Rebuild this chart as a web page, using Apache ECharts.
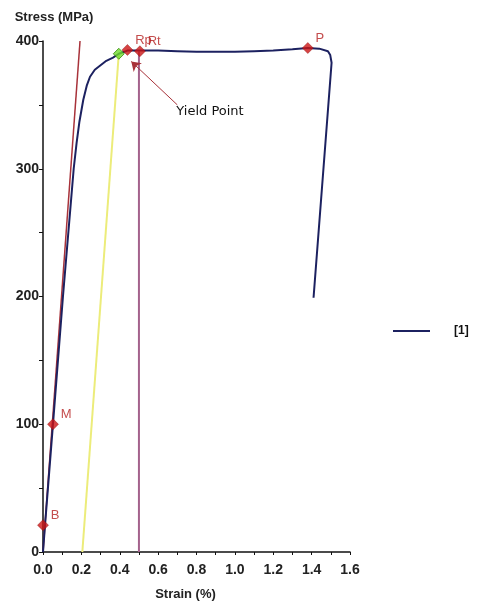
<!DOCTYPE html>
<html>
<head>
<meta charset="utf-8">
<script src="https://cdn.jsdelivr.net/npm/echarts@6/dist/echarts.min.js"></script>
<style>
  html, body { margin: 0; padding: 0; background: #fff; }
  #main { width: 498px; height: 605px; }
</style>
</head>
<body>
<div id="main"></div>
<script>
// stress-strain curve [1]
const curveStrain = [0, 0.01, 0.052, 0.104, 0.16, 0.175, 0.19, 0.21, 0.228, 0.245, 0.27, 0.30, 0.33, 0.365, 0.395, 0.44, 0.505, 0.6, 0.7, 0.8, 0.9, 1.0, 1.1, 1.2, 1.3, 1.38, 1.44, 1.485, 1.497, 1.504, 1.41];
const curveStress = [0, 20, 100, 200, 300, 320, 337, 354, 365, 372, 377.5, 381, 384.5, 387, 390, 392.5, 392.5, 392.5, 392, 391.5, 391.5, 391.5, 392, 392.5, 393.5, 394.5, 394, 392, 389, 383, 199];

// helper lines
const modulusStrain = [0, 0.193];
const modulusStress = [0, 400];
const offsetStrain = [0.205, 0.395];
const offsetStress = [0, 390];
const limitStrain = [0.5, 0.5];
const limitStress = [0, 392];

// marked points
const pointNames = ['B', 'M', 'Rp', 'Rt', 'P'];
const pointStrain = [0, 0.052, 0.44, 0.505, 1.38];
const pointStress = [21, 100, 393, 392, 394.5];
const yieldStrain = 0.395;
const yieldStress = 390;

// yield point annotation: [tail, head]
const yieldArrow = [[0.70, 350], [0.46, 384]];

const zip = (xs, ys) => xs.map((x, i) => [x, ys[i]]);

let myChart = echarts.init(document.getElementById('main'));

const axisText = { color: '#222', fontSize: 13, fontWeight: 'bold', fontFamily: 'Liberation Sans, Arial' };

let option = {
	backgroundColor: '#fff',
	animation: false,
	grid: { left: 43, right: 148, top: 41, bottom: 53, outerBoundsMode: 'none', containLabel: false },
	legend: {
		data: ['[1]'],
		left: 388,
		top: 320,
		icon: 'rect',
		itemWidth: 37,
		itemHeight: 2,
		textStyle: { color: '#111', fontSize: 12, fontWeight: 'bold', fontFamily: 'Liberation Sans, Arial', padding: [0, 0, 0, 19] }
	},
	xAxis: {
		type: 'value',
		min: 0,
		max: 1.6,
		interval: 0.2,
		name: 'Strain (%)',
		nameLocation: 'middle',
		nameGap: 36,
		nameTextStyle: Object.assign({}, axisText, { padding: [0, 22, 0, 0] }),
		splitLine: { show: false },
		axisLine: { lineStyle: { color: '#111', width: 1.5 } },
		axisTick: { length: 3, lineStyle: { color: '#111' } },
		minorTick: { show: true, splitNumber: 2, length: 3, lineStyle: { color: '#111' } },
		axisLabel: Object.assign({}, axisText, { fontSize: 14, margin: 11, formatter: v => v.toFixed(1) })
	},
	yAxis: {
		type: 'value',
		min: 0,
		max: 400,
		interval: 100,
		name: 'Stress (MPa)',
		nameLocation: 'end',
		nameGap: 17,
		nameTextStyle: Object.assign({}, axisText, { padding: [0, 0, 0, 22] }),
		splitLine: { show: false },
		axisLine: { lineStyle: { color: '#111', width: 1.5 } },
		axisTick: { length: 4, lineStyle: { color: '#111' } },
		minorTick: { show: true, splitNumber: 2, length: 4, lineStyle: { color: '#111' } },
		axisLabel: Object.assign({}, axisText, { fontSize: 14, margin: 4 })
	},
	series: [
		{
			name: 'modulus',
			type: 'line',
			data: zip(modulusStrain, modulusStress),
			showSymbol: false,
			lineStyle: { color: '#a8323a', width: 1.5 },
			z: 2
		},
		{
			name: 'offset',
			type: 'line',
			data: zip(offsetStrain, offsetStress),
			showSymbol: false,
			lineStyle: { color: '#ecec7a', width: 2 },
			z: 2
		},
		{
			name: 'limit',
			type: 'line',
			data: zip(limitStrain, limitStress),
			showSymbol: false,
			lineStyle: { color: '#a4628c', width: 2 },
			z: 2
		},
		{
			name: '[1]',
			type: 'line',
			data: zip(curveStrain, curveStress),
			showSymbol: false,
			itemStyle: { color: '#1c2160' },
			lineStyle: { color: '#1c2160', width: 2 },
			z: 3,
			markLine: {
				silent: true,
				symbol: ['none', 'arrow'],
				symbolSize: 9,
				lineStyle: { color: '#a8323a', width: 1, type: 'solid' },
				label: { show: false },
				data: [[{ coord: yieldArrow[0] }, { coord: yieldArrow[1] }]]
			},
			markPoint: {
				symbol: 'circle',
				symbolSize: 0,
				label: {
					show: true,
					position: 'right',
					distance: 0,
					offset: [-1, 7],
					color: '#111',
					fontSize: 13,
					fontFamily: 'DejaVu Sans, Verdana',
					formatter: 'Yield Point'
				},
				data: [{ coord: yieldArrow[0] }]
			}
		},
		{
			name: 'yield',
			type: 'scatter',
			data: [[yieldStrain, yieldStress]],
			symbol: 'diamond',
			symbolSize: 11,
			itemStyle: { color: '#6fdc2a', borderColor: '#3a8a12', borderWidth: 1 },
			z: 5
		},
		{
			name: 'points',
			type: 'scatter',
			data: pointNames.map((n, i) => ({ name: n, value: [pointStrain[i], pointStress[i]] })),
			symbol: 'diamond',
			symbolSize: 11,
			itemStyle: { color: '#cc1414', borderColor: '#8a0a0a', borderWidth: 0.5 },
			label: {
				show: true,
				formatter: '{b}',
				position: 'right',
				distance: 2,
				offset: [0, -10],
				color: '#b52020',
				fontSize: 13,
				fontFamily: 'Liberation Sans, Arial'
			},
			z: 6
		}
	]
};

myChart.setOption(option);
</script>
</body>
</html>
